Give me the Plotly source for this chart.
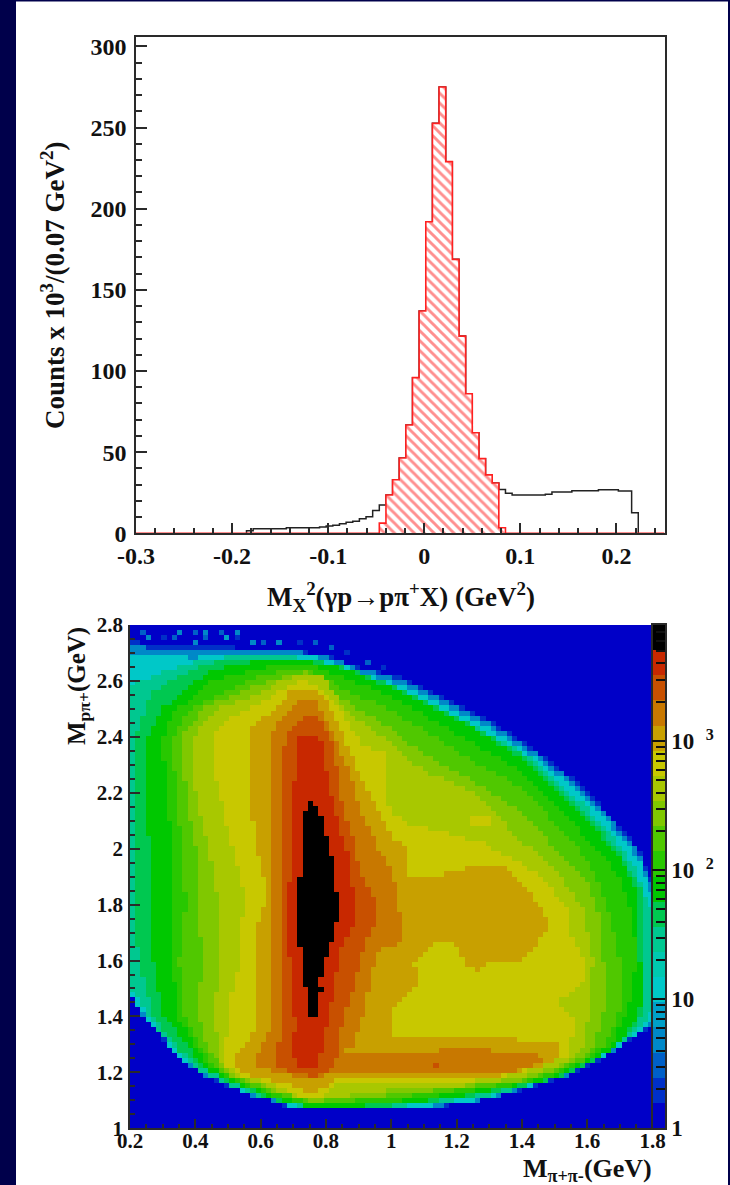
import numpy as np
import plotly.graph_objects as go

# ---------- top histogram (counts x 10^3 per bin) ----------
BIN_WIDTH = 0.00691
BIN_ZERO_EDGE = 0.0154
black_first_bin = -29
black_counts = [1.6, 2.8, 2.8, 2.8, 2.8, 2.8, 3.4, 3.4, 3.4, 3.4, 3.4, 3.9, 4.5, 4.9, 5.9, 6.8, 7.5, 9.0, 10.2, 14.0, 17.4,
                23.6, 33, 46.4, 66.7, 95.9, 137, 192, 252.6, 275, 229, 168.8, 121.5, 86, 62, 46, 36, 31,
                27, 24.7, 23.6, 23.6, 23.6, 23.6, 23.6, 24, 25.4, 25.4, 25.4, 26.2, 26.2, 26.2, 26.2,
                26.9, 26.9, 26.9, 26, 26, 12.7]
red_first_bin = -9
red_counts = [6.3, 23.6, 33, 46.4, 66.7, 95.9, 137, 192, 252.6, 275, 229, 168.8, 121.5, 86, 62, 46, 36, 31, 3.4]
hist_x_ticks = [-0.3, -0.2, -0.1, 0, 0.1, 0.2]
hist_x_labels = ["-0.3", "-0.2", "-0.1", "0", "0.1", "0.2"]
hist_y_ticks = [0, 50, 100, 150, 200, 250, 300]

# ---------- 2D map: iso-count outlines (x = M_pi+pi-, y = M_p pi+) per colour band ----------
contour_1 = [(0.2,1.475),(0.19,2.75),(0.3,2.72),(0.5,2.72),(0.7,2.71),(0.8,2.69),(0.9,2.65),(1.03,2.61),(1.127,2.555),(1.209,2.515),(1.3,2.46),(1.4,2.385),(1.49,2.31),(1.596,2.21),(1.688,2.09),(1.754,2.0),(1.79,1.9),(1.81,1.87),(1.81,1.375),(1.76,1.334),(1.708,1.298),(1.658,1.256),(1.596,1.22),(1.535,1.185),(1.484,1.167),(1.433,1.149),(1.372,1.128),(1.311,1.107),(1.24,1.09),(1.117,1.072),(0.995,1.068),(0.741,1.068),(0.69,1.072),(0.639,1.095),(0.578,1.113),(0.538,1.131),(0.466,1.167),(0.412,1.197),(0.364,1.238),(0.323,1.286),(0.283,1.34),(0.232,1.411),(0.206,1.465)]
contour_3 = [(0.19,1.48),(0.19,2.72),(0.45,2.715),(0.7,2.705),(0.8,2.685),(0.9,2.645),(1.03,2.60),(1.127,2.545),(1.209,2.505),(1.3,2.45),(1.4,2.375),(1.49,2.30),(1.596,2.195),(1.688,2.08),(1.754,1.985),(1.79,1.88),(1.81,1.85),(1.81,1.38),(1.76,1.34),(1.708,1.302),(1.658,1.26),(1.596,1.225),(1.535,1.188),(1.484,1.17),(1.433,1.152),(1.372,1.131),(1.311,1.11),(1.24,1.093),(1.117,1.076),(0.995,1.072),(0.741,1.072),(0.69,1.076),(0.639,1.098),(0.578,1.116),(0.538,1.134),(0.466,1.17),(0.412,1.2),(0.364,1.241),(0.323,1.289),(0.283,1.344),(0.232,1.415),(0.206,1.469)]
contour_5 = [(0.19,1.49),(0.19,2.685),(0.30,2.69),(0.40,2.68),(0.445,2.70),(0.70,2.70),(0.80,2.675),(0.90,2.633),(1.027,2.585),(1.127,2.53),(1.209,2.488),(1.30,2.43),(1.40,2.358),(1.49,2.28),(1.596,2.178),(1.688,2.06),(1.754,1.965),(1.785,1.864),(1.81,1.80),(1.81,1.39),(1.76,1.345),(1.708,1.305),(1.658,1.262),(1.596,1.228),(1.535,1.19),(1.484,1.172),(1.433,1.155),(1.372,1.134),(1.311,1.113),(1.24,1.096),(1.117,1.08),(0.995,1.075),(0.741,1.075),(0.69,1.08),(0.639,1.10),(0.578,1.118),(0.538,1.137),(0.466,1.172),(0.412,1.203),(0.364,1.244),(0.323,1.292),(0.283,1.347),(0.232,1.418),(0.206,1.472)]
contour_7 = [(0.245,1.42),(0.19,1.53),(0.19,2.58),(0.3,2.63),(0.4,2.67),(0.5,2.685),(0.7,2.685),(0.8,2.66),(0.9,2.62),(1.03,2.57),(1.127,2.515),(1.209,2.47),(1.3,2.41),(1.403,2.345),(1.49,2.255),(1.596,2.15),(1.688,2.03),(1.75,1.92),(1.80,1.76),(1.81,1.7),(1.81,1.42),(1.785,1.40),(1.76,1.36),(1.708,1.31),(1.658,1.268),(1.596,1.234),(1.5,1.182),(1.433,1.16),(1.311,1.118),(1.117,1.085),(0.995,1.078),(0.75,1.072),(0.69,1.084),(0.639,1.102),(0.578,1.12),(0.466,1.176),(0.412,1.208),(0.364,1.25),(0.323,1.298),(0.283,1.352)]
contour_8 = [(0.27,1.40),(0.225,1.6),(0.22,1.8),(0.22,2.0),(0.21,2.2),(0.22,2.4),(0.26,2.55),(0.35,2.62),(0.45,2.665),(0.6,2.68),(0.74,2.678),(0.853,2.65),(0.986,2.59),(1.097,2.53),(1.25,2.44),(1.403,2.335),(1.50,2.225),(1.607,2.11),(1.70,1.985),(1.76,1.86),(1.775,1.6),(1.775,1.45),(1.75,1.37),(1.70,1.305),(1.6,1.23),(1.5,1.178),(1.4,1.15),(1.2,1.105),(1.0,1.08),(0.75,1.074),(0.64,1.10),(0.5,1.168),(0.42,1.215),(0.35,1.28)]
contour_9 = [(0.3,1.40),(0.27,1.6),(0.26,1.8),(0.26,2.0),(0.24,2.2),(0.25,2.4),(0.30,2.5),(0.35,2.55),(0.45,2.64),(0.6,2.67),(0.74,2.67),(0.853,2.645),(0.986,2.58),(1.097,2.52),(1.25,2.43),(1.403,2.32),(1.50,2.21),(1.607,2.09),(1.70,1.96),(1.75,1.85),(1.76,1.6),(1.765,1.45),(1.74,1.37),(1.695,1.30),(1.6,1.235),(1.5,1.18),(1.4,1.155),(1.2,1.11),(1.0,1.083),(0.75,1.077),(0.64,1.105),(0.5,1.173),(0.42,1.22),(0.374,1.30)]
contour_10 = [(0.344,1.4),(0.33,1.6),(0.33,1.8),(0.33,2.0),(0.31,2.2),(0.30,2.4),(0.34,2.5),(0.41,2.55),(0.45,2.60),(0.6,2.645),(0.74,2.66),(0.853,2.61),(0.986,2.55),(1.097,2.48),(1.25,2.38),(1.403,2.27),(1.50,2.16),(1.607,2.02),(1.70,1.90),(1.74,1.75),(1.749,1.6),(1.729,1.45),(1.675,1.30),(1.6,1.245),(1.5,1.19),(1.4,1.16),(1.2,1.125),(1.0,1.095),(0.75,1.083),(0.64,1.115),(0.5,1.18),(0.43,1.24),(0.395,1.30)]
contour_11 = [(0.364,1.4),(0.35,1.6),(0.37,1.8),(0.36,2.0),(0.34,2.2),(0.33,2.4),(0.38,2.5),(0.47,2.55),(0.6,2.62),(0.74,2.645),(0.853,2.57),(0.986,2.50),(1.097,2.43),(1.25,2.31),(1.403,2.215),(1.50,2.09),(1.607,1.95),(1.66,1.80),(1.70,1.6),(1.71,1.45),(1.655,1.30),(1.6,1.25),(1.5,1.20),(1.4,1.166),(1.2,1.135),(1.0,1.107),(0.75,1.09),(0.64,1.125),(0.5,1.185),(0.44,1.25),(0.41,1.30)]
contour_12 = [(0.41,1.4),(0.42,1.6),(0.41,1.8),(0.40,2.0),(0.37,2.2),(0.36,2.4),(0.42,2.5),(0.52,2.55),(0.6,2.59),(0.74,2.635),(0.853,2.53),(0.986,2.44),(1.097,2.34),(1.25,2.24),(1.403,2.13),(1.50,2.0),(1.607,1.865),(1.64,1.75),(1.647,1.6),(1.66,1.45),(1.62,1.30),(1.57,1.245),(1.5,1.21),(1.4,1.172),(1.2,1.145),(1.0,1.119),(0.75,1.095),(0.64,1.135),(0.5,1.19),(0.46,1.25),(0.435,1.30)]
contour_13 = [(0.46,1.4),(0.47,1.6),(0.47,1.8),(0.44,2.0),(0.40,2.2),(0.39,2.4),(0.47,2.5),(0.59,2.55),(0.66,2.60),(0.74,2.625),(0.79,2.62),(0.853,2.50),(0.986,2.39),(1.097,2.28),(1.25,2.2),(1.403,2.02),(1.50,1.93),(1.59,1.78),(1.60,1.70),(1.617,1.6),(1.61,1.45),(1.59,1.30),(1.54,1.24),(1.49,1.215),(1.4,1.18),(1.2,1.15),(1.0,1.137),(0.79,1.105),(0.75,1.10),(0.64,1.14),(0.5,1.20),(0.475,1.25),(0.466,1.30)]
contour_14 = [(0.741,2.60),(0.772,2.58),(0.833,2.52),(0.864,2.46),(0.905,2.377),(0.98,2.34),(0.98,2.258),(0.995,2.133),(1.046,2.09),(1.128,2.067),(1.2,2.043),(1.28,2.02),(1.331,1.984),(1.403,1.948),(1.484,1.864),(1.535,1.793),(1.54,1.757),(1.55,1.697),(1.586,1.602),(1.586,1.53),(1.545,1.483),(1.51,1.459),(1.525,1.423),(1.556,1.399),(1.556,1.34),(1.535,1.256),(1.474,1.232),(1.444,1.215),(1.362,1.191),(1.301,1.173),(1.15,1.165),(0.995,1.155),(0.833,1.155),(0.792,1.113),(0.731,1.107),(0.69,1.131),(0.629,1.161),(0.537,1.19),(0.497,1.22),(0.486,1.268),(0.486,1.29),(0.50,1.34),(0.50,1.40),(0.517,1.52),(0.537,1.602),(0.537,1.697),(0.552,1.805),(0.537,1.90),(0.507,2.02),(0.486,2.138),(0.461,2.258),(0.456,2.413),(0.517,2.472),(0.573,2.508),(0.639,2.544),(0.69,2.585)]
contour_14_island = [(1.235,2.08),(1.31,2.08),(1.31,2.115),(1.235,2.115)]
contour_15 = [(0.69,2.56),(0.639,2.496),(0.568,2.44),(0.568,2.258),(0.573,2.138),(0.583,2.02),(0.609,1.90),(0.609,1.793),(0.578,1.697),(0.581,1.602),(0.578,1.34),(0.548,1.298),(0.517,1.262),(0.517,1.22),(0.578,1.185),(0.639,1.167),(0.70,1.15),(0.741,1.131),(0.772,1.131),(0.833,1.173),(1.027,1.179),(1.301,1.181),(1.362,1.197),(1.444,1.215),(1.474,1.232),(1.51,1.256),(1.508,1.304),(1.301,1.322),(0.995,1.322),(0.996,1.42),(1.046,1.471),(1.092,1.542),(1.06,1.59),(1.127,1.662),(1.189,1.662),(1.235,1.578),(1.275,1.56),(1.301,1.602),(1.403,1.602),(1.444,1.662),(1.474,1.697),(1.474,1.757),(1.444,1.805),(1.423,1.84),(1.342,1.936),(1.24,1.936),(1.178,1.912),(1.117,1.894),(1.046,1.894),(1.046,2.007),(1.006,2.03),(0.98,2.09),(0.94,2.186),(0.904,2.258),(0.874,2.353),(0.833,2.448),(0.802,2.52),(0.777,2.56)]
contour_16 = [(0.72,2.526),(0.65,2.448),(0.629,2.377),(0.629,1.34),(0.599,1.298),(0.578,1.232),(0.639,1.20),(0.70,1.19),(0.741,1.173),(0.772,1.173),(0.812,1.197),(1.362,1.197),(1.444,1.232),(1.474,1.244),(1.444,1.266),(1.352,1.262),(1.291,1.286),(1.158,1.286),(1.127,1.268),(0.838,1.268),(0.884,1.292),(0.915,1.40),(0.935,1.52),(0.95,1.6),(0.965,1.64),(1.025,1.66),(1.026,1.757),(1.01,1.864),(1.006,1.90),(0.95,2.02),(0.904,2.138),(0.874,2.258),(0.843,2.353),(0.802,2.448),(0.772,2.526)]
contour_17 = [(0.726,2.475),(0.68,2.413),(0.665,2.341),(0.665,1.34),(0.644,1.256),(0.644,1.22),(0.71,1.197),(0.772,1.185),(0.806,1.209),(0.838,1.256),(0.853,1.40),(0.884,1.495),(0.904,1.602),(0.95,1.745),(0.955,1.8165),(0.909,1.90),(0.884,2.02),(0.853,2.138),(0.838,2.258),(0.818,2.377),(0.792,2.448),(0.772,2.475)]
contour_18 = [(0.72,2.40),(0.71,2.389),(0.71,2.258),(0.695,2.21),(0.69,1.90),(0.68,1.805),(0.68,1.638),(0.70,1.578),(0.695,1.459),(0.71,1.364),(0.695,1.304),(0.71,1.22),(0.772,1.215),(0.787,1.292),(0.802,1.364),(0.823,1.483),(0.838,1.614),(0.884,1.733),(0.884,1.8165),(0.869,1.972),(0.838,2.09),(0.808,2.22),(0.787,2.389),(0.78,2.40)]
contour_19 = [(0.746,2.168),(0.772,2.15),(0.787,2.115),(0.787,2.043),(0.805,2.043),(0.805,1.972),(0.82,1.972),(0.82,1.846),(0.838,1.846),(0.838,1.739),(0.82,1.739),(0.82,1.668),(0.805,1.668),(0.805,1.608),(0.789,1.608),(0.789,1.536),(0.772,1.536),(0.789,1.483),(0.772,1.483),(0.772,1.397),(0.741,1.397),(0.741,1.483),(0.727,1.536),(0.727,1.644),(0.709,1.644),(0.709,1.864),(0.726,1.882),(0.709,1.90),(0.727,1.912),(0.727,2.115),(0.741,2.15)]
contours = [(1, contour_1), (3, contour_3), (5, contour_5), (7, contour_7), (8, contour_8), (9, contour_9),
            (10, contour_10), (11, contour_11), (12, contour_12), (13, contour_13), (14, contour_14),
            (14, contour_14_island), (15, contour_15), (16, contour_16), (17, contour_17), (18, contour_18), (19, contour_19)]
# isolated occupied cells near the upper edge: x, y, band
speckle_x = [.242,.257,.303,.349,.344,.405,.425,.395,.435,.486,.522,.49,.527,.573,.609,.66,.72,.772,.823,.864,.925,.976,1.13]
speckle_y = [2.77,2.746,2.746,2.77,2.746,2.764,2.776,2.74,2.752,2.776,2.77,2.746,2.746,2.734,2.74,2.73,2.73,2.73,2.717,2.70,2.67,2.645,1.23]
speckle_band = [2,3,1,3,2,2,3,3,2,2,3,4,1,3,2,3,1,2,2,1,2,1,17]
band_colours = ["#0000c8","#0030c8","#0060c8","#0088c8","#00a0c8","#00c8c8","#00c8b0","#00c890","#00c850","#00c800",
                "#28c800","#50c800","#80c800","#a8c800","#c8c800","#c8a000","#c87800","#c85000","#c82800","#000000"]
palette_top_log = 3.9
palette_ticks = [0, 1, 2, 3]
palette_labels = ["1", "10", "10  <sup>2</sup>", "10  <sup>3</sup>"]
map_x_ticks = [0.2, 0.4, 0.6, 0.8, 1, 1.2, 1.4, 1.6, 1.8]
map_x_labels = ["0.2", "0.4", "0.6", "0.8", "1", "1.2", "1.4", "1.6", "1.8"]
map_y_ticks = [1, 1.2, 1.4, 1.6, 1.8, 2, 2.2, 2.4, 2.6, 2.8]
map_y_labels = ["1", "1.2", "1.4", "1.6", "1.8", "2", "2.2", "2.4", "2.6", "2.8"]

# ---------- build ----------
W, H = 730, 1185
FONT = "Liberation Serif"
AXC = "#2a2a2a"
def px(x): return x / W
def py(y): return 1 - y / H

def steps(first_bin, vals):
    edges = [BIN_ZERO_EDGE + (first_bin + i) * BIN_WIDTH for i in range(len(vals) + 1)]
    return edges, vals

e, v = steps(black_first_bin, black_counts)
bx = [e[0]] + e
by = [0] + list(v) + [0]
e, v = steps(red_first_bin, red_counts)
rx = [-0.3, e[0]] + e + [0.25]
ry = [0, 0] + list(v) + [0, 0]

def inside(xx, yy, poly):
    poly = np.array(poly)
    res = np.zeros(xx.shape, bool)
    x0, y0 = poly[:, 0], poly[:, 1]
    x1, y1 = np.roll(x0, -1), np.roll(y0, -1)
    for a, b, c, d in zip(x0, y0, x1, y1):
        if b == d:
            continue
        cross = ((b > yy) != (d > yy)) & (xx < (c - a) * (yy - b) / (d - b) + a)
        res ^= cross
    return res

NX, NY = 100, 100
cx = 0.2 + (np.arange(NX) + .5) * 1.6 / NX
cy = 1.0 + (np.arange(NY) + .5) * 1.8 / NY
XX, YY = np.meshgrid(cx, cy)
Z = np.zeros((NY, NX))
for lev, poly in contours:
    Z[inside(XX, YY, poly)] = lev
for sx, sy, sb in zip(speckle_x, speckle_y, speckle_band):
    Z[int((sy - 1) / 0.018), int((sx - .2) / 0.016)] = sb
Z = Z + 0.5

nb = len(band_colours)
cs = []
for i, c in enumerate(band_colours):
    cs += [[i / nb, c], [(i + 1) / nb, c]]

fig = go.Figure()
fig.add_trace(go.Scatter(x=bx, y=by, mode="lines", line=dict(color="#222222", width=1.5, shape="hv"),
                         xaxis="x", yaxis="y", showlegend=False))
fig.add_trace(go.Scatter(x=rx, y=ry, mode="lines", line=dict(color="#ff2020", width=1.6, shape="hv"),
                         fill="tozeroy", fillcolor="rgba(255,255,255,0)",
                         fillpattern=dict(shape="\\", fgcolor="#ff2020", bgcolor="white", size=7, solidity=0.42),
                         xaxis="x", yaxis="y", showlegend=False))
fig.add_trace(go.Heatmap(x=cx, y=cy, z=Z, zmin=0, zmax=nb, colorscale=cs, showscale=False, xaxis="x2", yaxis="y2",
                         zsmooth=False))
band_step = palette_top_log / nb
fig.add_trace(go.Heatmap(x=[0, 1], y=[(i + .5) * band_step for i in range(nb)],
                         z=[[i + .5, i + .5] for i in range(nb)], zmin=0, zmax=nb, colorscale=cs,
                         showscale=False, xaxis="x3", yaxis="y3"))

tick_font = dict(family=FONT, size=24, color="#111111", weight=700)
map_font = dict(family=FONT, size=21, color="#111111", weight=700)
common = dict(showline=True, linecolor=AXC, linewidth=1.5, showgrid=False, zeroline=False, ticks="inside", tickcolor=AXC, tickwidth=1.5)
minor_log = [np.log10(m) + d for d in range(4) for m in range(2, 10) if np.log10(m) + d <= palette_top_log]

def note(text, x, y, size, angle=0):
    return dict(text=text, xref="paper", yref="paper", x=px(x), y=py(y), xanchor="center", yanchor="middle",
                textangle=angle, showarrow=False, font=dict(family=FONT, size=size, color="#111111", weight=700))

fig.update_layout(
    width=W, height=H, margin=dict(l=0, r=0, t=0, b=0, pad=0, autoexpand=False), paper_bgcolor="#00004b", plot_bgcolor="white", showlegend=False,
    xaxis=dict(domain=[px(136), px(664.5)], range=[-0.3, 0.25], tickmode="array", tickvals=hist_x_ticks, ticktext=hist_x_labels,
               ticklen=11, tickfont=tick_font, ticklabelstandoff=0, mirror=True, anchor="y",
               minor=dict(dtick=0.02, ticks="inside", ticklen=6, tickcolor=AXC, tickwidth=1.5), **common),
    yaxis=dict(domain=[py(533.3), py(37)], range=[0, 305.8], tickmode="array", tickvals=hist_y_ticks,
               ticklen=11, tickfont=tick_font, ticklabelstandoff=3, mirror=True, anchor="x",
               minor=dict(dtick=10, ticks="inside", ticklen=6, tickcolor=AXC, tickwidth=1.5), **common),
    xaxis2=dict(domain=[px(130), px(652.5)], range=[0.2, 1.8], tickmode="array", tickvals=map_x_ticks, ticktext=map_x_labels,
                ticklen=10, tickfont=map_font, anchor="y2", ticklabelstandoff=-7,
                minor=dict(dtick=0.05, ticks="inside", ticklen=5, tickcolor=AXC, tickwidth=1.5), **common),
    yaxis2=dict(domain=[py(1128.3), py(625)], range=[1, 2.8], tickmode="array", tickvals=map_y_ticks, ticktext=map_y_labels,
                ticklen=10, tickfont=map_font, anchor="x2", ticklabelstandoff=1,
                minor=dict(dtick=0.05, ticks="inside", ticklen=5, tickcolor=AXC, tickwidth=1.5), **common),
    xaxis3=dict(domain=[px(652.5), px(665)], range=[0, 1], showticklabels=False, ticks="", showline=True, mirror=True,
                linecolor=AXC, linewidth=1.5, showgrid=False, zeroline=False, anchor="y3"),
    yaxis3=dict(domain=[py(1128.3), py(625)], range=[0, palette_top_log], side="right", anchor="x3", tickmode="array",
                tickvals=palette_ticks, ticktext=palette_labels, ticklen=13, tickfont=dict(family=FONT, size=23, color="#111111", weight=600),
                minor=dict(tickvals=minor_log, ticks="inside", ticklen=9, tickcolor="#111111", tickwidth=1.5),
                showline=True, linecolor=AXC, linewidth=1.5, mirror=True, showgrid=False, zeroline=False,
                ticks="inside", tickcolor="#111111", tickwidth=1.5),
    shapes=[dict(type="rect", xref="paper", yref="paper", x0=px(16), x1=px(728), y0=0, y1=py(1.5), fillcolor="white",
                 line=dict(width=0), layer="below")],
    annotations=[
        note("Counts x 10<sup>3</sup>/(0.07 GeV<sup>2</sup>)", 53, 286, 27, -90),
        note("M<sub>X</sub><sup>2</sup>(γp→pπ<sup>+</sup>X) (GeV<sup>2</sup>)", 401, 597, 27),
        note("M<sub>pπ+</sub>(GeV)", 78, 686, 25, -90),
        note("M<sub>π+π-</sub>(GeV)", 587, 1170, 26),
    ],
)
fig.write_html("out.html", config=dict(displayModeBar=False),
               post_script="document.body.style.margin='0';document.documentElement.style.overflow='hidden';document.body.style.background='#00004b';")
